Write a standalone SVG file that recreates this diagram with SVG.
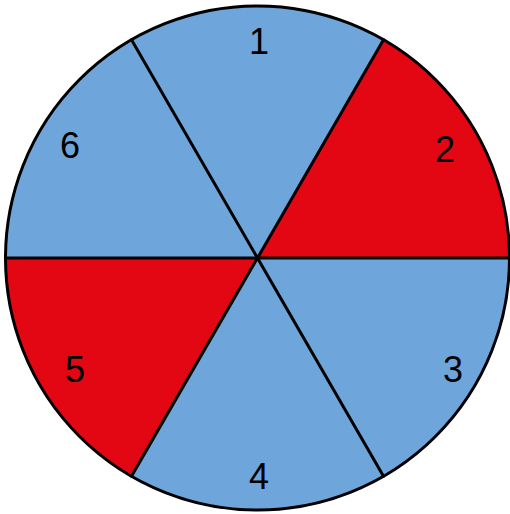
<svg xmlns="http://www.w3.org/2000/svg" width="510" height="514" viewBox="0 0 510 514">
<style>
.blue{fill:#6EA6DB}
.red{fill:#E30613}
.lbl{font-family:"Liberation Sans",Arial,sans-serif;font-size:36px;fill:#000;text-anchor:middle}
.ln{stroke:#000;stroke-width:3;fill:none;stroke-linecap:round}
</style>
<g id="s1"><path class="blue" d="M257.5,258 L131.5,39.8 A252,252 0 0 1 383.5,39.8 Z"/><text class="lbl" x="259" y="54">1</text></g>
<g id="s2"><path class="red" d="M257.5,258 L383.5,39.8 A252,252 0 0 1 509.5,258 Z"/><text class="lbl" x="445" y="162">2</text></g>
<g id="s3"><path class="blue" d="M257.5,258 L509.5,258 A252,252 0 0 1 383.5,476.2 Z"/><text class="lbl" x="453" y="382">3</text></g>
<g id="s4"><path class="blue" d="M257.5,258 L383.5,476.2 A252,252 0 0 1 131.5,476.2 Z"/><text class="lbl" x="259" y="489">4</text></g>
<g id="s5"><path class="red" d="M257.5,258 L131.5,476.2 A252,252 0 0 1 5.5,258 Z"/><text class="lbl" x="75" y="382">5</text></g>
<g id="s6"><path class="blue" d="M257.5,258 L5.5,258 A252,252 0 0 1 131.5,39.8 Z"/><text class="lbl" x="70" y="158">6</text></g>
<g id="connectors">
<line class="ln" x1="131.5" y1="39.8" x2="383.5" y2="476.2"/>
<line class="ln" x1="383.5" y1="39.8" x2="131.5" y2="476.2"/>
<line class="ln" x1="5.5" y1="258" x2="509.5" y2="258"/>
<circle class="ln" cx="257.5" cy="258" r="252"/>
</g>
</svg>
